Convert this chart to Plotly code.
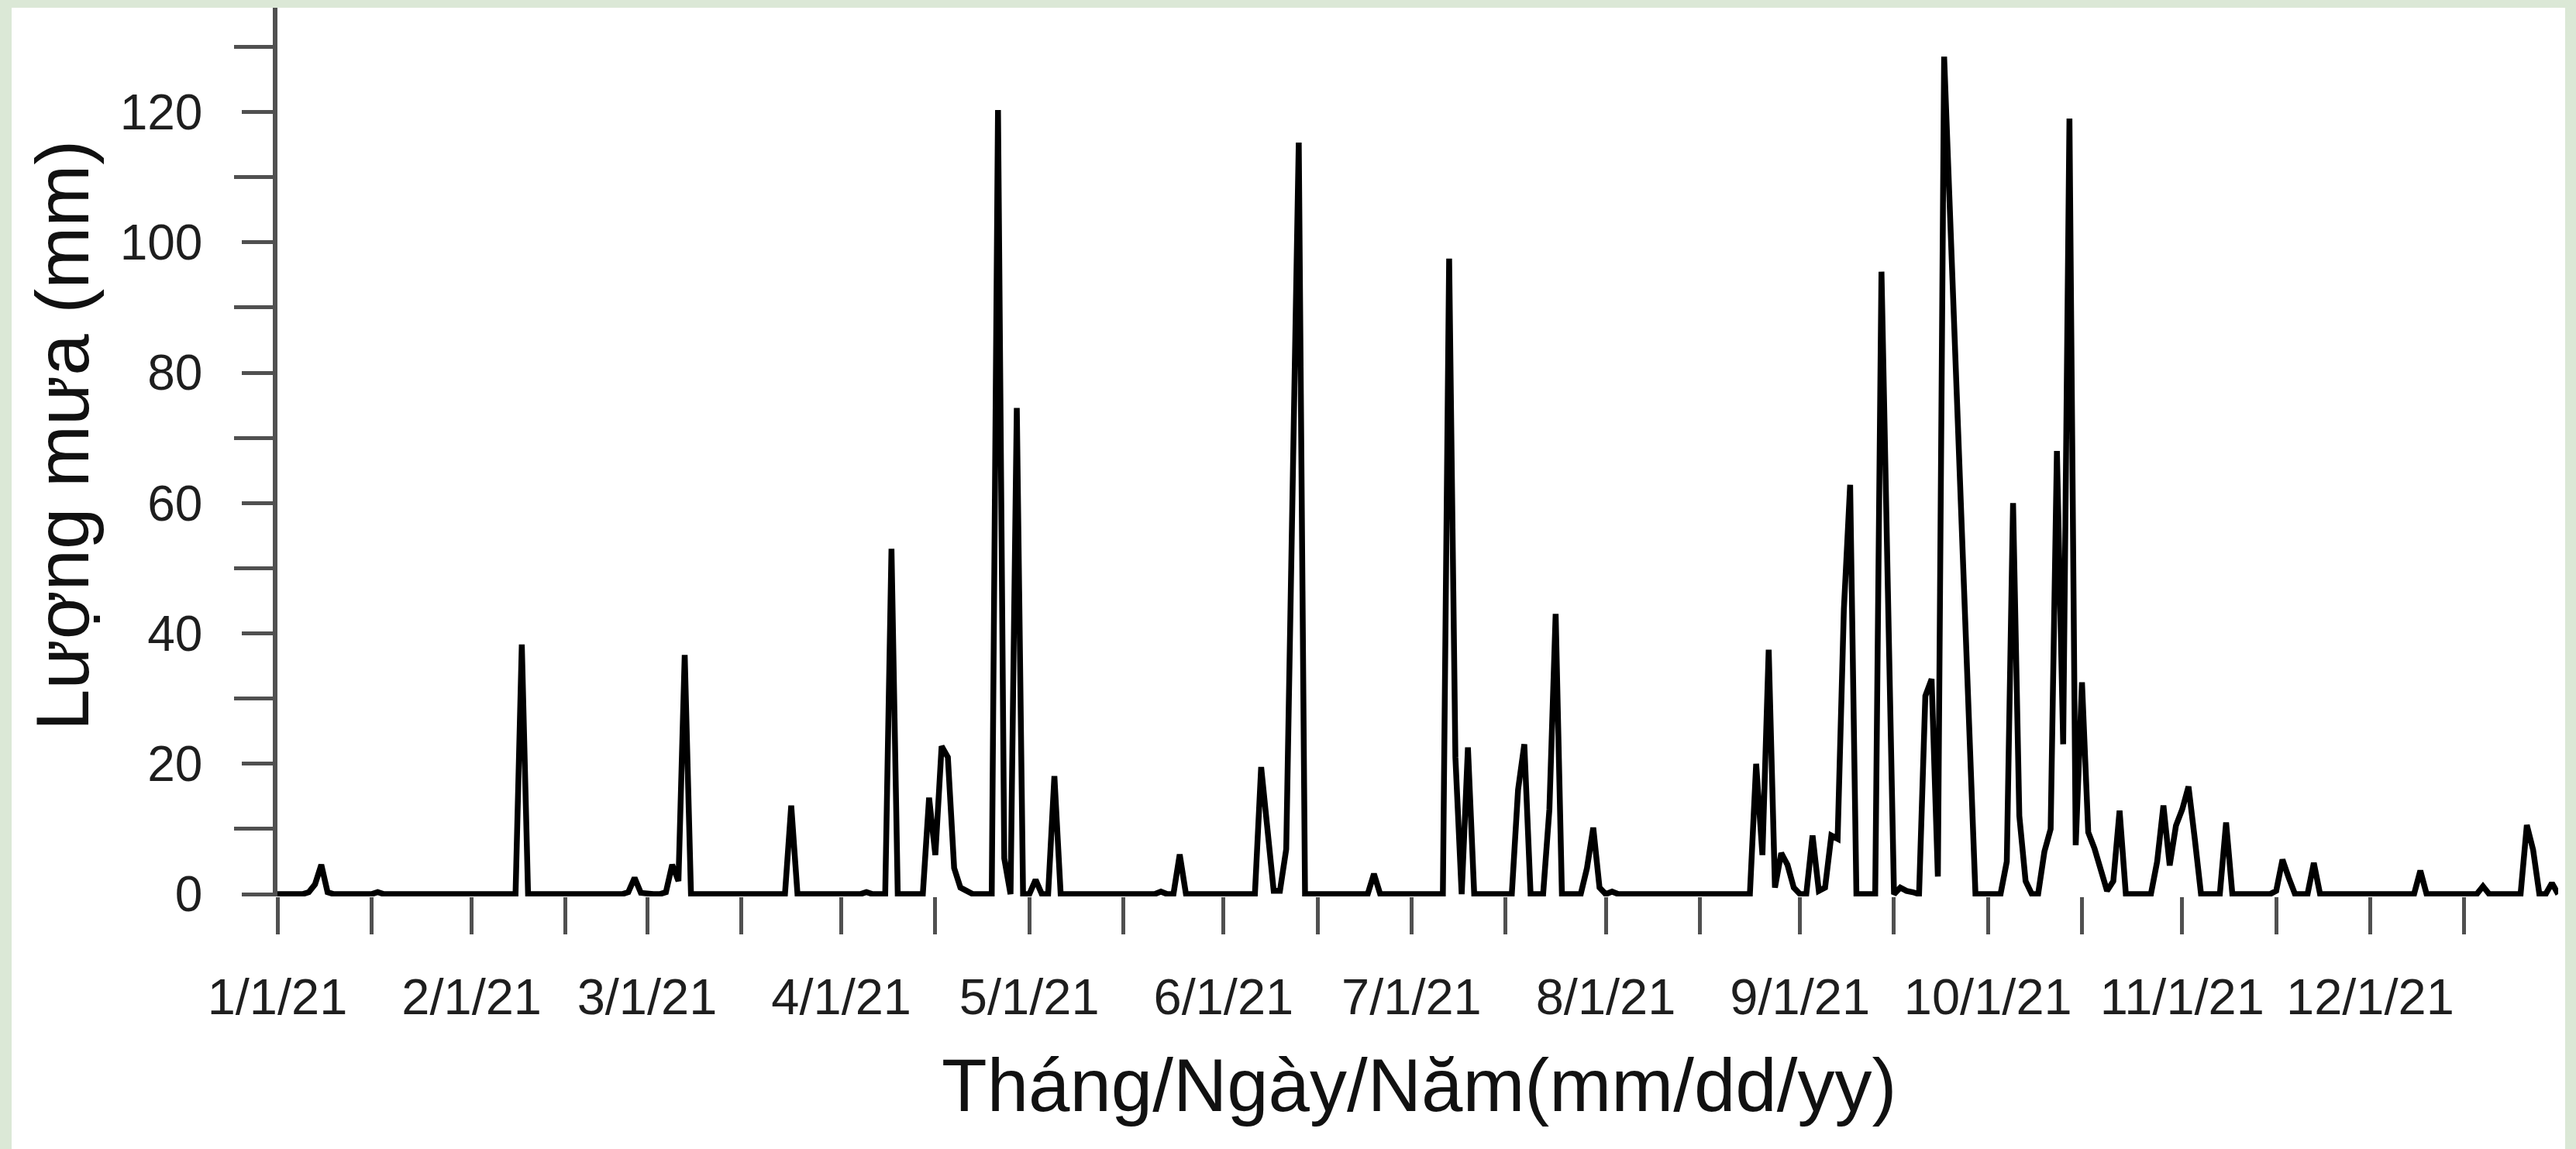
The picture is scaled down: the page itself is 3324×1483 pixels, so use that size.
import pandas as pd
import plotly.graph_objects as go

# ---- data (daily rainfall, 2021) ----
rain_dates = [
    "2021-01-06", "2021-01-07", "2021-01-08", "2021-01-09", "2021-01-17", "2021-01-27",
    "2021-02-02", "2021-02-09", "2021-02-26", "2021-02-27", "2021-02-28",
    "2021-03-04", "2021-03-05", "2021-03-06", "2021-03-07", "2021-03-24",
    "2021-04-05", "2021-04-09", "2021-04-15", "2021-04-16", "2021-04-17", "2021-04-18",
    "2021-04-19", "2021-04-20", "2021-04-21", "2021-04-26", "2021-04-27", "2021-04-29",
    "2021-05-02", "2021-05-05", "2021-05-16", "2021-05-22", "2021-05-25",
    "2021-06-07", "2021-06-08", "2021-06-09", "2021-06-10", "2021-06-11", "2021-06-13",
    "2021-06-25",
    "2021-07-07", "2021-07-08", "2021-07-10", "2021-07-18", "2021-07-19", "2021-07-23",
    "2021-07-24", "2021-07-29", "2021-07-30", "2021-07-31",
    "2021-08-02", "2021-08-10", "2021-08-25", "2021-08-26", "2021-08-27", "2021-08-28",
    "2021-08-29", "2021-08-30", "2021-08-31",
    "2021-09-03", "2021-09-04", "2021-09-05", "2021-09-06", "2021-09-07", "2021-09-08",
    "2021-09-09", "2021-09-14", "2021-09-17", "2021-09-18", "2021-09-19",
    "2021-09-21", "2021-09-22", "2021-09-23", "2021-09-24",
    "2021-10-04", "2021-10-05", "2021-10-06", "2021-10-07", "2021-10-10", "2021-10-11",
    "2021-10-12", "2021-10-13", "2021-10-14", "2021-10-15", "2021-10-16", "2021-10-17",
    "2021-10-18", "2021-10-19", "2021-10-20", "2021-10-21", "2021-10-22",
    "2021-10-28", "2021-10-29", "2021-10-30", "2021-10-31",
    "2021-11-01", "2021-11-02", "2021-11-03", "2021-11-08", "2021-11-16", "2021-11-17",
    "2021-11-18", "2021-11-22",
    "2021-12-09", "2021-12-19", "2021-12-26", "2021-12-27", "2021-12-30",
]
rain_mm = [
    0.3, 1.5, 4.5, 0.3, 0.3, 0.2,
    0.2, 38.3, 0.3, 2.5, 0.2,
    0.3, 4.5, 2.0, 36.7, 13.6,
    0.3, 53.0, 14.8, 6.0, 22.7, 21.0,
    4.0, 1.0, 0.5, 120.3, 5.5, 74.6,
    2.2, 18.1, 0.2, 0.4, 6.1,
    19.5, 9.0, 0.5, 0.5, 6.9, 115.3,
    3.1,
    97.5, 21.0, 22.5, 16.0, 23.0, 13.0,
    43.0, 4.0, 10.2, 1.0,
    0.4, 0.2, 20.0, 6.0, 37.5, 1.0,
    6.3, 4.5, 1.0,
    9.0, 0.5, 1.0, 9.0, 8.5, 43.7,
    62.8, 95.5, 1.0, 0.5, 0.3,
    30.4, 33.0, 2.7, 128.5,
    5.0, 60.0, 12.0, 2.0, 6.5, 10.0,
    68.0, 23.0, 119.0, 7.5, 32.5, 9.5,
    7.0, 3.5, 0.5, 2.0, 12.8,
    5.0, 13.6, 4.4, 10.5,
    13.0, 16.5, 8.5, 11.0, 0.5, 5.3,
    2.5, 4.8,
    3.6, 1.2, 10.6, 6.8, 1.7,
]
# days with no recorded value (line simply joins the neighbours)
missing_dates = ["2021-06-12", "2021-09-15", "2021-09-25", "2021-09-26",
                 "2021-09-27", "2021-09-28"]

tick_dates = ["2021-%02d-01" % m for m in range(1, 13)]
tick_labels = ["%d/1/21" % m for m in range(1, 13)]
mid_tick_dates = ["2021-%02d-16" % m for m in range(1, 13)]
y_major = [0, 20, 40, 60, 80, 100, 120]
y_minor = [10, 30, 50, 70, 90, 110, 130]

# ---- build daily series (dry days sit on the zero line) ----
days = pd.date_range("2021-01-01", "2021-12-31", freq="D")
series = pd.Series(0.0, index=days, dtype="object")
for d, v in zip(rain_dates, rain_mm):
    series[pd.Timestamp(d)] = v
for d in missing_dates:
    series[pd.Timestamp(d)] = None

W, H = 3324, 1483
L, R, T, B = 358, 23, 10, 326
pw, ph = W - L - R, H - T - B

fig = go.Figure()
fig.add_trace(go.Scatter(
    x=list(days), y=list(series.values), mode="lines",
    line=dict(color="black", width=7.5), connectgaps=True,
    hoverinfo="x+y", showlegend=False,
))

axis_col = "#505050"
font_fam = "Liberation Sans, Arial, sans-serif"

fig.update_layout(
    width=W, height=H,
    margin=dict(l=L, r=R, t=T, b=B, pad=0),
    paper_bgcolor="#dbe8d6",
    plot_bgcolor="white",
    font=dict(family=font_fam, color="#222222"),
    xaxis=dict(
        type="date",
        range=["2021-01-01", "2021-12-31"],
        showgrid=False, zeroline=False, showline=False,
        ticks="outside", ticklen=48, tickwidth=5, tickcolor=axis_col,
        tickmode="array", tickvals=tick_dates, ticktext=tick_labels,
        tickfont=dict(size=65, family=font_fam, color="#1e1e1e"),
        ticklabelstandoff=25,
        minor=dict(tickmode="array", tickvals=mid_tick_dates, ticks="outside",
                   ticklen=48, tickwidth=5, tickcolor=axis_col, showgrid=False),
    ),
    yaxis=dict(
        range=[-0.35, 136],
        showgrid=False, zeroline=False,
        showline=True, linewidth=5.5, linecolor=axis_col,
        ticks="outside", ticklen=40, tickwidth=5, tickcolor=axis_col,
        tickmode="array", tickvals=y_major,
        tickfont=dict(size=64, family=font_fam, color="#1e1e1e"),
        ticklabelstandoff=38,
        minor=dict(tickmode="array", tickvals=y_minor, ticks="outside",
                   ticklen=50, tickwidth=5, tickcolor=axis_col, showgrid=False),
    ),
    shapes=[dict(
        type="rect", xref="paper", yref="paper", layer="below",
        x0=(15 - L) / pw, x1=(3310 - L) / pw,
        y0=(T + ph - H) / ph, y1=1.0,
        fillcolor="white", line=dict(width=0),
    )],
    annotations=[
        dict(text="Tháng/Ngày/Năm(mm/dd/yy)", xref="paper", yref="paper",
             x=(1831 - L) / pw, y=(T + ph - 1400) / ph,
             xanchor="center", yanchor="middle", showarrow=False,
             font=dict(size=96, family=font_fam, color="#111111")),
        dict(text="Lượng mưa (mm)", xref="paper", yref="paper",
             x=(80 - L) / pw, y=(T + ph - 562) / ph, textangle=-90,
             xanchor="center", yanchor="middle", showarrow=False,
             font=dict(size=96, family=font_fam, color="#111111")),
    ],
)

fig.write_html("out.html")
